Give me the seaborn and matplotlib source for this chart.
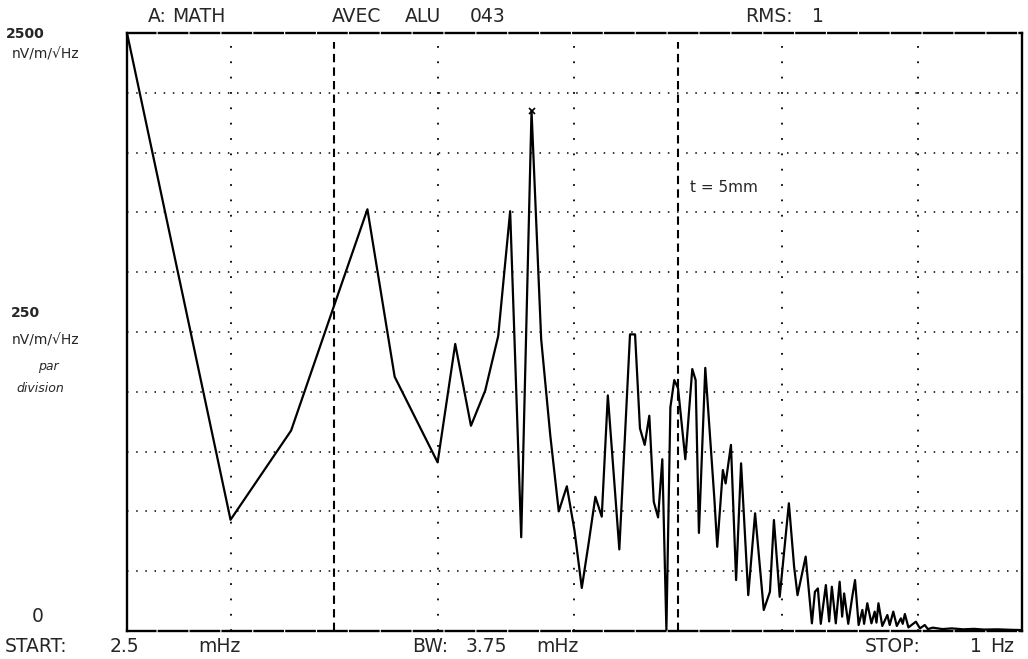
import numpy as np
import pandas as pd
import matplotlib
matplotlib.use("Agg")
import matplotlib.pyplot as plt
import seaborn as sns

# spectrum (frequency in mHz, amplitude in nV/m/sqrt(Hz))
freq_mhz = [2.5, 5, 7.5, 10, 12.5, 15, 20, 22.5, 25, 27.5, 30, 32.5, 35, 37.5, 40,
            42.5, 45, 47.5, 50, 52.5, 55, 57.5, 60, 62.5, 67.5, 72.5, 75, 77.5, 80,
            82.5, 85, 87.5, 90, 92.5, 95, 97.5, 100, 105, 110, 112.5, 115, 120, 127.5,
            130, 135, 137.5, 142.5, 147.5, 152.5, 160, 167.5, 177.5, 185, 190, 197.5,
            210, 217.5, 222.5, 235, 245, 250, 255, 260, 269, 275, 280, 287.5, 295,
            300, 304, 312.5, 321, 327, 335, 343.5, 347.5, 355, 365, 373, 377.5, 382.5,
            392.5, 406, 412.5, 422.5, 432.5, 444.5, 450, 456.5, 467.5, 491.5, 505,
            521.5, 532.5, 550, 587.5, 625, 675, 725, 775, 850, 925, 1000]
amplitude = [2500, 465, 838, 1360, 1763, 1063, 705, 1200, 858, 1005, 1233, 1755, 392,
             2175, 1220, 820, 500, 605, 420, 180, 370, 561, 478, 985, 341, 1240, 1240,
             847, 778, 900, 540, 475, 718, 5, 935, 1049, 1015, 718, 1095, 1049, 410,
             1100, 555, 352, 673, 617, 778, 213, 701, 150, 492, 88, 164, 464, 143,
             534, 269, 150, 311, 32, 164, 178, 30, 192, 40, 185, 32, 206,
             60, 157, 30, 143, 213, 25, 88, 30, 116, 32, 81, 35, 116,
             21, 67, 25, 81, 21, 53, 30, 71, 15, 39, 11,
             25, 8, 14, 8, 11, 7, 9, 6, 7, 5, 4]

y_grid = [250, 500, 750, 1000, 1250, 1500, 1750, 2000, 2250]
x_dotted = [5, 20, 50, 200, 500]
x_dashed = [10, 100]

df = pd.DataFrame({"freq": freq_mhz, "amp": amplitude})

sns.set_style("white")
plt.rcParams["font.family"] = ["DejaVu Sans"]

fig = plt.figure(figsize=(10.28, 6.59), dpi=100)
ax = fig.add_axes([127 / 1028, 28 / 659, 895 / 1028, 598 / 659])

for y in y_grid:
    ax.axhline(y, color="black", lw=1.1, linestyle=(0, (1, 5)), zorder=1)
for x in x_dotted:
    ax.axvline(x, color="black", lw=1.3, linestyle=(0, (1, 7.5)), zorder=1)
for x in x_dashed:
    ax.axvline(x, ymax=0.985, color="black", lw=1.5, linestyle=(0, (4, 2.5)), zorder=1)

sns.lineplot(data=df, x="freq", y="amp", ax=ax, color="black", lw=1.6,
             estimator=None, sort=False, zorder=3)
# marker at the highest peak
i_max = int(np.argmax(amplitude[1:])) + 1
ax.plot(freq_mhz[i_max], amplitude[i_max], marker="x", ms=4, mew=1.2, color="black", zorder=4)

ax.set_xscale("log")
ax.set_xlim(2.5, 1000)
ax.set_ylim(0, 2500)
ax.set_xticks([])
ax.set_yticks([])
ax.minorticks_off()
ax.set_xlabel("")
ax.set_ylabel("")
for side in ["left", "right", "top", "bottom"]:
    ax.spines[side].set_visible(True)
    ax.spines[side].set_color("black")
    ax.spines[side].set_linewidth(1.7)
ax.spines["top"].set_linestyle((0, (12, 1.5)))
ax.spines["bottom"].set_linestyle((0, (12, 1.5)))

# plotter header and footer, word by word like the pen plotter spacing
fs = 13.5
top_y = 1 - 17 / 659
bot_y = 1 - 646 / 659
header = [(148, "A:"), (172, "MATH"), (332, "AVEC"), (405, "ALU"), (470, "043"),
          (745, "RMS:"), (812, "1")]
footer = [(5, "START:"), (110, "2.5"), (198, "mHz"), (412, "BW:"), (466, "3.75"),
          (536, "mHz"), (865, "STOP:"), (970, "1"), (990, "Hz")]
for px, word in header:
    fig.text(px / 1028, top_y, word, fontsize=fs, va="center", ha="left")
for px, word in footer:
    fig.text(px / 1028, bot_y, word, fontsize=fs, va="center", ha="left")

# handwritten annotations
hs = 10
fig.text(25 / 1028, 1 - 34 / 659, "2500", fontsize=hs, ha="center", va="center", fontweight="bold")
fig.text(46 / 1028, 1 - 55 / 659, "nV/m/√Hz", fontsize=hs, ha="center", va="center")
fig.text(25 / 1028, 1 - 313 / 659, "250", fontsize=hs, ha="center", va="center", fontweight="bold")
fig.text(46 / 1028, 1 - 340 / 659, "nV/m/√Hz", fontsize=hs, ha="center", va="center")
fig.text(48 / 1028, 1 - 366 / 659, "par", fontsize=hs - 1, ha="center", va="center", style="italic")
fig.text(40 / 1028, 1 - 389 / 659, "division", fontsize=hs - 1, ha="center", va="center", style="italic")
fig.text(38 / 1028, 1 - 617 / 659, "0", fontsize=fs, ha="center", va="center")
fig.text(690 / 1028, 1 - 187 / 659, "t = 5mm", fontsize=11, ha="left", va="center")

fig.savefig("out.png", dpi=100, facecolor="white")
